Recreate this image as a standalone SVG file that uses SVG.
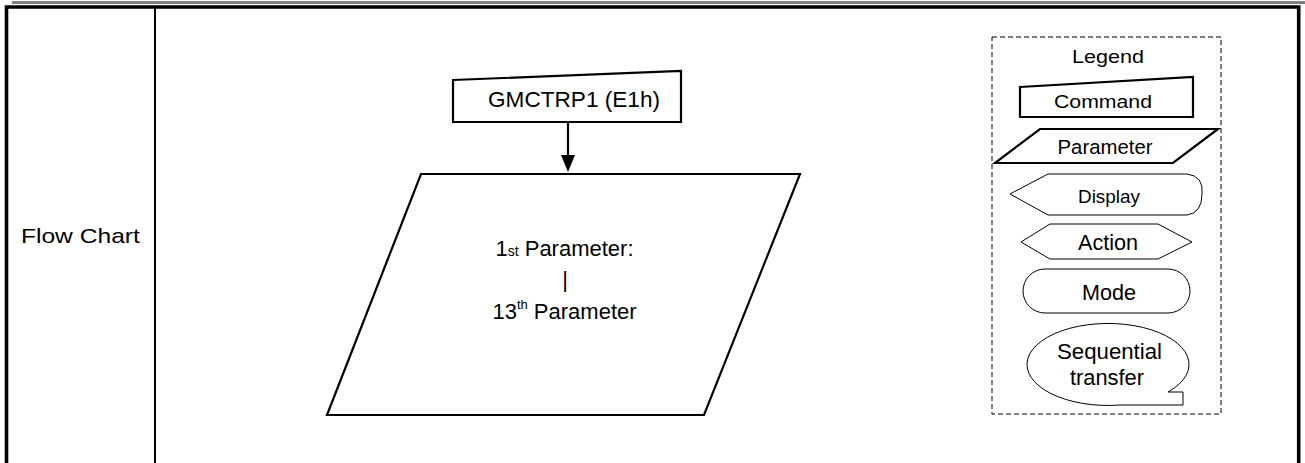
<svg xmlns="http://www.w3.org/2000/svg" width="1305" height="463" viewBox="0 0 1305 463">
<defs>
<style>
text{font-family:"Liberation Sans",Arial,sans-serif;fill:#000;text-anchor:middle}
.thick{fill:#fff;stroke:#000;stroke-width:2.2;stroke-linejoin:miter}
.thin{fill:#fff;stroke:#000;stroke-width:1}
</style>
</defs>
<rect width="1305" height="463" fill="#fff"/>
<g id="frame">
<line x1="12" y1="1.5" x2="1305" y2="1.5" stroke="#888" stroke-width="1"/>
<line x1="12" y1="3" x2="1305" y2="3" stroke="#000" stroke-width="1.2"/>
<path d="M6.5,463 V7 H1298.7 V463" fill="none" stroke="#000" stroke-width="3.6"/>
<line x1="155" y1="7" x2="155" y2="463" stroke="#000" stroke-width="2"/>
<text x="80.4" y="243" font-size="21" textLength="119" lengthAdjust="spacingAndGlyphs">Flow Chart</text>
</g>
<g id="connectors">
<line x1="568" y1="122" x2="568" y2="155" stroke="#000" stroke-width="2.2"/>
<path d="M561,155 L575,155 L568,172 Z" fill="#000"/>
</g>
<g id="cmd">
<path class="thick" d="M453,80 L681,71 L681,122 L453,122 Z"/>
<text x="574" y="107" font-size="22.5" textLength="172" lengthAdjust="spacingAndGlyphs">GMCTRP1 (E1h)</text>
</g>
<g id="param">
<path class="thick" d="M421,174 L800,174 L704,415 L327,415 Z"/>
<text x="564.5" y="256" font-size="22"><tspan>1</tspan><tspan font-size="14">st</tspan><tspan> Parameter:</tspan></text>
<text x="565" y="287" font-size="22">|</text>
<text x="564.5" y="319" font-size="22"><tspan>13</tspan><tspan font-size="13" dy="-10">th</tspan><tspan dy="10"> Parameter</tspan></text>
</g>
<g id="legend">
<rect x="992" y="37" width="229" height="377" fill="none" stroke="#000" stroke-width="1" stroke-dasharray="5,3"/>
<text x="1108" y="63" font-size="19" textLength="72" lengthAdjust="spacingAndGlyphs">Legend</text>
</g>
<g id="leg-command">
<path class="thick" d="M1020,87 L1193,77 L1193,117 L1020,117 Z"/>
<text x="1103" y="108" font-size="17.5" textLength="98" lengthAdjust="spacingAndGlyphs">Command</text>
</g>
<g id="leg-parameter">
<path class="thick" d="M1040,129 L1218,129 L1173,163 L995,163 Z"/>
<text x="1105" y="154" font-size="20.5" textLength="95" lengthAdjust="spacingAndGlyphs">Parameter</text>
</g>
<g id="leg-display">
<path class="thin" d="M1010,194 L1048,174 L1187,174 Q1204,176 1202,194 Q1202,213 1187,215 L1048,215 Z"/>
<text x="1109" y="202.5" font-size="19" textLength="62" lengthAdjust="spacingAndGlyphs">Display</text>
</g>
<g id="leg-action">
<path class="thin" d="M1021,242 L1050,224 L1158,224 L1192,242 L1158,259 L1050,259 Z"/>
<text x="1108" y="250" font-size="21.6" textLength="60" lengthAdjust="spacingAndGlyphs">Action</text>
</g>
<g id="leg-mode">
<rect class="thin" x="1023" y="269" width="167" height="44" rx="22" ry="22"/>
<text x="1109" y="300" font-size="21.5" textLength="54" lengthAdjust="spacingAndGlyphs">Mode</text>
</g>
<g id="leg-seq">
<path class="thin" d="M1168,392 L1183,392 L1183,405 L1120,405 A81,41 0 1,1 1168,392 Z"/>
<text x="1109.5" y="359" font-size="22" textLength="105" lengthAdjust="spacingAndGlyphs">Sequential</text>
<text x="1107" y="385" font-size="22" textLength="74" lengthAdjust="spacingAndGlyphs">transfer</text>
</g>
</svg>
